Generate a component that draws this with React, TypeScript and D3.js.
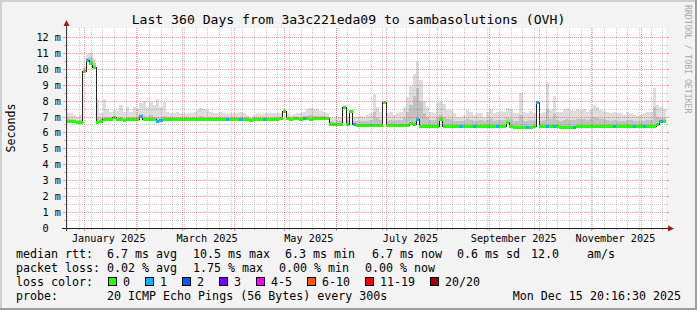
import React from "react";
import * as d3 from "d3";

// ---- time frame ----
const START = Date.UTC(2024, 11, 20, 20, 16, 30);
const END = Date.UTC(2025, 11, 15, 20, 16, 30);
const STEP_DAYS = 2;
const DAY = 86400000;

// ---- median RTT (ms), one value every 2 days ----
const medianRtt = [
  6.68, 6.68, 6.66, 6.62, 6.62, 9.85, 10.5, 10.35, 10.05, 6.62,
  6.7, 6.8, 6.8, 6.82, 6.92, 6.8, 6.8, 6.76, 6.82, 6.82,
  6.82, 6.82, 6.98, 6.82, 6.82, 6.82, 6.82, 6.7, 6.72, 6.84,
  6.83, 6.83, 6.82, 6.83, 6.84, 6.83, 6.82, 6.83, 6.83, 6.84,
  6.83, 6.82, 6.83, 6.83, 6.84, 6.83, 6.82, 6.83, 6.83, 6.83,
  6.82, 6.83, 6.83, 6.83, 6.82, 6.72, 6.83, 6.84, 6.84, 6.83,
  6.84, 6.84, 6.83, 6.84, 6.85, 7.3, 6.85, 6.84, 6.85, 6.85,
  6.84, 6.85, 6.85, 6.84, 6.85, 6.85, 6.86, 6.85, 6.85, 6.5,
  6.5, 6.48, 6.5, 7.58, 6.48, 7.3, 6.48, 6.46, 6.45, 6.45,
  6.44, 6.45, 6.44, 6.44, 6.45, 7.86, 6.43, 6.43, 6.42, 6.43,
  6.42, 6.42, 6.43, 6.55, 6.5, 6.8, 6.38, 6.38, 6.37, 6.38,
  6.38, 6.38, 6.8, 6.38, 6.37, 6.38, 6.38, 6.37, 6.38, 6.38,
  6.38, 6.37, 6.38, 6.38, 6.37, 6.38, 6.36, 6.37, 6.38, 6.38,
  6.37, 6.38, 6.65, 6.36, 6.33, 6.3, 6.3, 6.31, 6.3, 6.32,
  6.35, 7.86, 6.38, 6.37, 6.36, 6.37, 6.37, 6.36, 6.32, 6.3,
  6.3, 6.31, 6.33, 6.37, 6.38, 6.38, 6.37, 6.38, 6.38, 6.39,
  6.38, 6.39, 6.38, 6.38, 6.39, 6.38, 6.38, 6.39, 6.39, 6.38,
  6.39, 6.38, 6.39, 6.38, 6.39, 6.39, 6.4, 6.52, 6.68, 6.7,
];

// ---- inner smoke (ms) ----
const smokeMid = [
  6.9, 6.85, 6.8, 6.78, 6.8, 10.0, 10.7, 10.75, 10.35, 6.95,
  6.9, 7.0, 6.95, 6.95, 7.05, 6.95, 7.0, 6.92, 7.0, 6.98,
  7.0, 7.0, 7.15, 7.05, 7.0, 7.1, 7.0, 6.95, 6.95, 7.05,
  6.98, 6.97, 6.96, 6.98, 6.98, 6.97, 6.96, 6.97, 6.98, 7.0,
  7.02, 7.0, 6.98, 6.98, 6.98, 6.97, 6.98, 6.97, 6.96, 6.97,
  6.97, 6.96, 6.98, 6.97, 6.95, 6.88, 6.97, 6.98, 6.97, 6.98,
  6.98, 6.99, 6.97, 6.98, 6.99, 7.4, 6.99, 6.98, 6.99, 7.0,
  7.0, 7.02, 7.05, 7.08, 7.06, 7.05, 7.03, 7.02, 7.0, 6.7,
  6.68, 6.7, 6.72, 7.65, 6.7, 7.35, 6.7, 6.72, 6.74, 6.72,
  6.75, 6.8, 7.3, 6.9, 6.8, 7.9, 6.75, 6.8, 6.72, 6.78,
  6.8, 6.95, 7.3, 7.7, 8.3, 8.8, 8.0, 7.2, 6.95, 6.8,
  6.78, 6.95, 7.1, 7.0, 6.85, 6.85, 6.75, 6.7, 6.72, 6.75,
  6.85, 6.8, 6.72, 6.75, 6.78, 6.7, 6.8, 6.85, 6.75, 6.78,
  6.8, 6.8, 6.9, 6.85, 6.7, 6.72, 7.1, 6.75, 6.7, 6.78,
  6.72, 7.9, 6.75, 6.8, 7.5, 6.85, 7.2, 6.8, 6.75, 6.8,
  6.85, 6.8, 6.8, 6.85, 6.82, 6.85, 6.8, 6.82, 6.95, 6.9,
  6.85, 6.82, 6.8, 6.75, 6.8, 6.75, 6.75, 6.72, 6.8, 6.78,
  6.72, 6.7, 6.72, 6.75, 6.8, 6.8, 7.6, 7.0, 6.9, 6.88,
];

// ---- outer smoke / max ping (ms) ----
const smokeMax = [
  7.25, 7.2, 7.1, 7.0, 7.1, 10.1, 10.9, 11.0, 10.6, 8.1,
  7.2, 8.1, 7.5, 7.3, 7.4, 7.35, 7.7, 7.3, 7.6, 7.3,
  7.6, 7.5, 7.85, 8.0, 7.6, 7.9, 7.7, 8.1, 7.6, 7.9,
  7.3, 7.25, 7.2, 7.3, 7.2, 7.25, 7.15, 7.2, 7.3, 7.4,
  7.55, 7.5, 7.4, 7.3, 7.25, 7.2, 7.3, 7.2, 7.15, 7.2,
  7.25, 7.2, 7.3, 7.2, 7.1, 7.0, 7.1, 7.2, 7.15, 7.2,
  7.2, 7.25, 7.2, 7.2, 7.25, 7.45, 7.2, 7.1, 7.15, 7.2,
  7.25, 7.3, 7.45, 7.55, 7.5, 7.45, 7.35, 7.3, 7.2, 6.95,
  6.9, 6.95, 7.0, 7.7, 7.0, 7.4, 7.0, 7.0, 7.05, 7.0,
  7.1, 7.2, 8.4, 7.6, 7.3, 8.0, 7.2, 7.3, 7.1, 7.25,
  7.3, 7.6, 8.2, 8.9, 9.7, 10.45, 9.3, 8.0, 7.6, 7.3,
  7.25, 7.85, 7.9, 7.8, 7.4, 7.4, 7.2, 7.0, 7.0, 7.1,
  7.4, 7.3, 7.1, 7.2, 7.25, 7.0, 7.3, 7.45, 7.2, 7.3,
  7.35, 7.3, 7.55, 7.5, 7.2, 7.25, 8.5, 7.3, 7.2, 7.35,
  7.2, 8.0, 7.2, 7.3, 9.15, 7.4, 8.3, 7.3, 7.3, 7.45,
  7.55, 7.4, 7.35, 7.45, 7.4, 7.5, 7.3, 7.4, 7.7, 7.6,
  7.4, 7.35, 7.3, 7.2, 7.3, 7.2, 7.2, 7.1, 7.3, 7.25,
  7.1, 7.05, 7.1, 7.2, 7.3, 7.3, 8.8, 7.7, 7.6, 7.5,
];

// ---- packet loss events: [sample index, lost pings of 20] ----
const lossEvents: [number, number][] = [
  [6, 1], [22, 1], [27, 1], [28, 1], [48, 1], [52, 1], [59, 1], [71, 1],
  [86, 1], [105, 1], [118, 1], [122, 1], [129, 1], [138, 1], [141, 1],
  [144, 1], [146, 1], [152, 1], [164, 1], [170, 1], [173, 1], [178, 1],
];

// ---- axis / legend texts ----
const yTickValues = [0, 1, 2, 3, 4, 5, 6, 7, 8, 9, 10, 11, 12];
const monthLabels = ["January 2025", "March 2025", "May 2025", "July 2025", "September 2025", "November 2025"];
const monthLabelMonths = [0, 2, 4, 6, 8, 10];
const lossLegendLabels = ["0", "1", "2", "3", "4-5", "6-10", "11-19", "20/20"];
const lossThresholds = [1, 2, 3, 4, 6, 11, 20];
const medianStats = ["6.7 ms avg", "10.5 ms max", "6.3 ms min", "6.7 ms now", "0.6 ms sd", "12.0", "am/s"];
const lossStats = ["0.02 % avg", "1.75 % max", "0.00 % min", "0.00 % now"];
const titleText = "Last 360 Days from 3a3c221eda09 to sambasolutions (OVH)";
const probeText = "20 ICMP Echo Pings (56 Bytes) every 300s";
const dateText = "Mon Dec 15 20:16:30 2025";

const LOSS_COLORS = ["#26ff00", "#00b8ff", "#0059ff", "#7e00ff", "#ff00ff", "#ff5500", "#ff0000", "#a00000"];

export default function App() {
  const W = 697, H = 310;
  const X0 = 66, X1 = 666, Y0 = 228, Y1 = 28;
  const x = d3.scaleUtc().domain([new Date(START), new Date(END)]).range([X0, X1]);
  const y = d3.scaleLinear().domain([0, 12.56]).range([Y0, Y1]);
  const lossColor = d3.scaleThreshold<number, string>().domain(lossThresholds).range(LOSS_COLORS);
  const lossMap = new Map<number, number>(lossEvents);

  const pts = medianRtt.map((m, i) => ({
    t: new Date(START + i * STEP_DAYS * DAY),
    med: m,
    mid: smokeMid[i],
    max: smokeMax[i],
    loss: lossMap.get(i) ?? 0,
  }));
  const ext = [...pts, { ...pts[pts.length - 1], t: new Date(END) }];

  const areaMax = d3.area<any>().x((d) => x(d.t)).y0((d) => y(d.med)).y1((d) => y(d.max)).curve(d3.curveStepAfter);
  const areaMid = d3.area<any>().x((d) => x(d.t)).y0((d) => y(d.med)).y1((d) => y(d.mid)).curve(d3.curveStepAfter);
  const medLine = d3.line<any>().x((d) => x(d.t)).y((d) => y(d.med)).curve(d3.curveStepAfter);

  const px = (v: number) => Math.floor(v) + 0.5;
  const py = (v: number) => Math.round(v) + 0.5;

  const weeks = d3.utcSunday.range(new Date(START), new Date(END));
  const months = d3.utcMonth.range(new Date(START), new Date(END));
  const minorY = d3.range(0.5, 12.5, 1);

  const minorColor = "rgba(100,100,100,0.35)";
  const majorColor = "rgba(230,50,50,0.45)";
  const font = "'DejaVu Sans Mono', monospace";

  const legendX = 16;
  const medX = [107, 193, 285, 372, 457, 531, 587];
  const lossX = [107, 193, 279, 365];
  const boxX = [108, 145, 182, 219, 256, 307, 365, 430];
  const rowY = [258, 272, 286, 300];

  return (
    <svg width={W} height={H} style={{ position: "absolute", left: 0, top: 0, display: "block" }} fontFamily={font}>
      <rect x={0} y={0} width={W} height={H} fill="#f3f3f3" />
      {/* shade border */}
      <rect x={0} y={0} width={W} height={2} fill="#cfcfcf" />
      <rect x={0} y={0} width={2} height={H} fill="#cfcfcf" />
      <rect x={0} y={H - 2} width={W} height={2} fill="#9e9e9e" />
      <rect x={W - 2} y={0} width={2} height={H} fill="#9e9e9e" />

      {/* canvas */}
      <rect x={X0} y={Y1} width={X1 - X0} height={Y0 - Y1} fill="#ffffff" />

      {/* smoke */}
      <path d={areaMax(ext) || ""} fill="#dddddd" shapeRendering="crispEdges" />
      <path d={areaMid(ext) || ""} fill="#c2c2c2" shapeRendering="crispEdges" />
      {/* median line */}
      <path d={medLine(ext) || ""} fill="none" stroke="#202020" strokeWidth={1} shapeRendering="crispEdges" />
      {/* loss coloured median band */}
      {pts.map((d, i) => {
        const xa = x(d.t);
        const xb = x(ext[i + 1].t);
        return (
          <rect key={i} x={xa} y={y(d.med) - 1.5} width={xb - xa} height={3}
            fill={lossColor(d.loss)} shapeRendering="crispEdges" />
        );
      })}

      {/* grid */}
      {minorY.map((v) => (
        <g key={"my" + v}>
          <line x1={X0} x2={X1} y1={py(y(v))} y2={py(y(v))} stroke={minorColor} strokeDasharray="1,1" />
          <line x1={X0 - 2} x2={X0} y1={py(y(v))} y2={py(y(v))} stroke={minorColor} />
          <line x1={X1} x2={X1 + 2} y1={py(y(v))} y2={py(y(v))} stroke={minorColor} />
        </g>
      ))}
      {weeks.map((w) => (
        <g key={"w" + w.getTime()}>
          <line x1={px(x(w))} x2={px(x(w))} y1={Y1} y2={Y0} stroke={minorColor} strokeDasharray="1,1" />
          <line x1={px(x(w))} x2={px(x(w))} y1={Y0} y2={Y0 + 2} stroke={minorColor} />
        </g>
      ))}
      {yTickValues.slice(1).map((v) => (
        <g key={"My" + v}>
          <line x1={X0} x2={X1} y1={py(y(v))} y2={py(y(v))} stroke={majorColor} strokeDasharray="1,1" />
          <line x1={X0 - 3} x2={X0} y1={py(y(v))} y2={py(y(v))} stroke={majorColor} />
          <line x1={X1} x2={X1 + 3} y1={py(y(v))} y2={py(y(v))} stroke={majorColor} />
        </g>
      ))}
      {months.map((m) => (
        <g key={"m" + m.getTime()}>
          <line x1={px(x(m))} x2={px(x(m))} y1={Y1} y2={Y0} stroke={majorColor} strokeDasharray="1,1" />
          <line x1={px(x(m))} x2={px(x(m))} y1={Y0} y2={Y0 + 3} stroke={majorColor} />
        </g>
      ))}

      {/* axes */}
      <line x1={62} x2={670} y1={Y0 + 0.5} y2={Y0 + 0.5} stroke="#202020" />
      <path d={`M${674},${Y0 + 0.5} L${668},${Y0 - 2.5} L${668},${Y0 + 3.5} Z`} fill="#a01818" />
      <line x1={X0 + 0.5} x2={X0 + 0.5} y1={Y0 + 3} y2={25} stroke="#404040" />
      <path d={`M${X0 + 0.5},${20} L${X0 - 2.5},${26} L${X0 + 3.5},${26} Z`} fill="#a01818" />

      {/* y labels */}
      {yTickValues.map((v) => (
        <g key={"yl" + v} fontSize={10.2} fill="#000">
          <text x={48.7} y={py(y(v)) + 3.3} textAnchor="end">{v}</text>
          {v > 0 && <text x={54.8} y={py(y(v)) + 3.3}>m</text>}
        </g>
      ))}

      {/* x labels */}
      {monthLabels.map((lab, i) => (
        <text key={lab} x={x(new Date(Date.UTC(2025, monthLabelMonths[i], 15, 12)))} y={241.5}
          fontSize={10.2} textAnchor="middle" fill="#000">{lab}</text>
      ))}

      {/* title */}
      <text x={348.5} y={24} fontSize={13.1} textAnchor="middle" fill="#000">{titleText}</text>
      {/* y axis title */}
      <text transform={`translate(14.5,128) rotate(-90)`} fontSize={11.65} textAnchor="middle" fill="#000">Seconds</text>
      {/* watermark */}
      <text transform={`translate(685,5) rotate(90)`} fontSize={8.2} fill="#a8a8a8">RRDTOOL / TOBI OETIKER</text>

      {/* legend */}
      <g fontSize={11.65} fill="#000">
        <text x={legendX} y={rowY[0]}>median rtt:</text>
        {medianStats.map((s, i) => (
          <text key={"ms" + i} x={medX[i]} y={rowY[0]}>{s}</text>
        ))}
        <text x={legendX} y={rowY[1]}>packet loss:</text>
        {lossStats.map((s, i) => (
          <text key={"ls" + i} x={lossX[i]} y={rowY[1]}>{s}</text>
        ))}
        <text x={legendX} y={rowY[2]}>loss color:</text>
        {lossLegendLabels.map((s, i) => (
          <g key={"lc" + i}>
            <rect x={boxX[i] + 0.5} y={rowY[2] - 8.5} width={8} height={8} fill={LOSS_COLORS[i]} stroke="#000" />
            <text x={boxX[i] + 15} y={rowY[2]}>{s}</text>
          </g>
        ))}
        <text x={legendX} y={rowY[3]}>probe:</text>
        <text x={107} y={rowY[3]}>{probeText}</text>
        <text x={681} y={rowY[3]} textAnchor="end">{dateText}</text>
      </g>
    </svg>
  );
}
